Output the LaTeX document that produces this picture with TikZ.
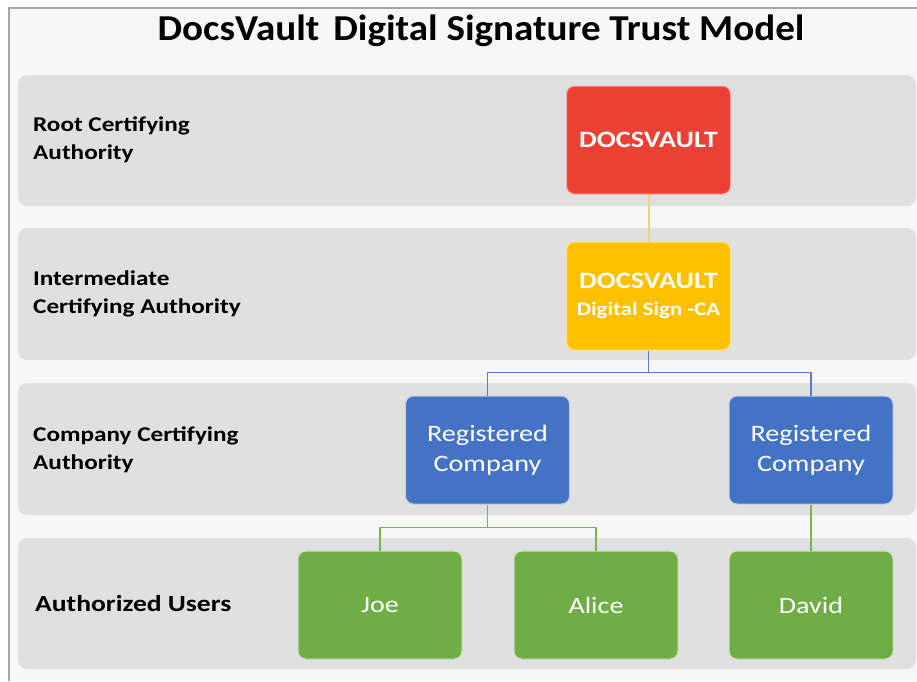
\documentclass[tikz,border=0pt]{standalone}
\usepackage{fontspec}
\setmainfont{Carlito}[FakeStretch=1.2]
\newfontfamily\titlefont{Carlito}[FakeStretch=1.07]
\usetikzlibrary{positioning}
\definecolor{framebg}{HTML}{F7F7F7}
\definecolor{frameln}{HTML}{A6A6A6}
\definecolor{bandbg}{HTML}{E0E0E0}
\definecolor{redbox}{HTML}{EB4034}
\definecolor{yelbox}{HTML}{FFC000}
\definecolor{bluebox}{HTML}{4472C4}
\definecolor{greenbox}{HTML}{70AD47}
\definecolor{tanline}{HTML}{EDD28C}
\definecolor{blueline}{HTML}{5B7EC2}
\definecolor{greenline}{HTML}{7AB356}
\tikzset{
  band/.style={fill=bandbg, draw=none, rounded corners=9pt},
  boxbase/.style={rounded corners=8pt, minimum width=164pt, minimum height=108pt, inner sep=2pt, align=center, text=white, line width=1pt},
  rootbox/.style={boxbase, fill=redbox, draw=redbox!45!white, font=\fontsize{23.5}{27}\selectfont\bfseries},
  interbox/.style={boxbase, fill=yelbox, draw=yelbox!45!white, font=\fontsize{23.5}{27}\selectfont\bfseries},
  compbox/.style={boxbase, fill=bluebox, draw=bluebox!35!white, font=\fontsize{23.5}{30}\selectfont},
  userbox/.style={boxbase, fill=greenbox, draw=greenbox!35!white, font=\fontsize{23.4}{30}\selectfont},
  lvllabel/.style={anchor=west, align=left, inner sep=0pt, font=\fontsize{21}{28}\selectfont\bfseries},
  conn/.style={line width=1.3pt}
}
\begin{document}
\begin{tikzpicture}[x=1pt,y=-1pt]
\useasboundingbox (0,0) rectangle (917,681);
\fill[white] (0,0) rectangle (917,681);
\fill[framebg] (9,8) rectangle (917,681);
\draw[frameln, line width=2pt] (9,681) -- (9,8) -- (917,8);
% title
\node[font=\titlefont\fontsize{36.5}{40}\selectfont\bfseries, text=black] (title) at (481,31) {DocsVault\hspace{5pt} Digital Signature Trust Model};
% bands
\fill[band] (18,75) rectangle (916,206);
\fill[band] (18,228) rectangle (916,360);
\fill[band] (18,383) rectangle (916,515);
\fill[band] (18,538) rectangle (916,669);
% level labels
\node[lvllabel] (l1) at (33,140) {Root Certifying\\Authority};
\node[lvllabel] (l2) at (33,294) {Intermediate\\Certifying Authority};
\node[lvllabel] (l3) at (33,450) {Company Certifying\\Authority};
\node[lvllabel, font=\fontsize{23}{28}\selectfont\bfseries] (l4) at (35,604) {Authorized Users};
% boxes
\node[rootbox] (root) at (648.5,140) {DOCSVAULT};
\node[interbox] (inter) at (648.5,296) {DOCSVAULT\\{\fontsize{19}{27}\selectfont\bfseries Digital Sign -CA}};
\node[compbox] (compA) at (487.5,450) {Registered\\Company};
\node[compbox] (compB) at (811,450) {Registered\\Company};
\node[userbox] (joe) at (380,605) {Joe};
\node[userbox] (alice) at (596,605) {Alice};
\node[userbox] (david) at (811,605) {David};
% connectors
\draw[conn, tanline, line width=2pt] (root.south) -- (inter.north);
\draw[conn, blueline] (inter.south) -- ++(0,22) coordinate (bsplit) -| (compA.north);
\draw[conn, blueline] (bsplit) -| (compB.north);
\draw[conn, greenline] (compA.south) -- ++(0,23) coordinate (gsplit) -| (joe.north);
\draw[conn, greenline] (gsplit) -| (alice.north);
\draw[conn, greenline] (compB.south) -- (david.north);
\end{tikzpicture}
\end{document}
